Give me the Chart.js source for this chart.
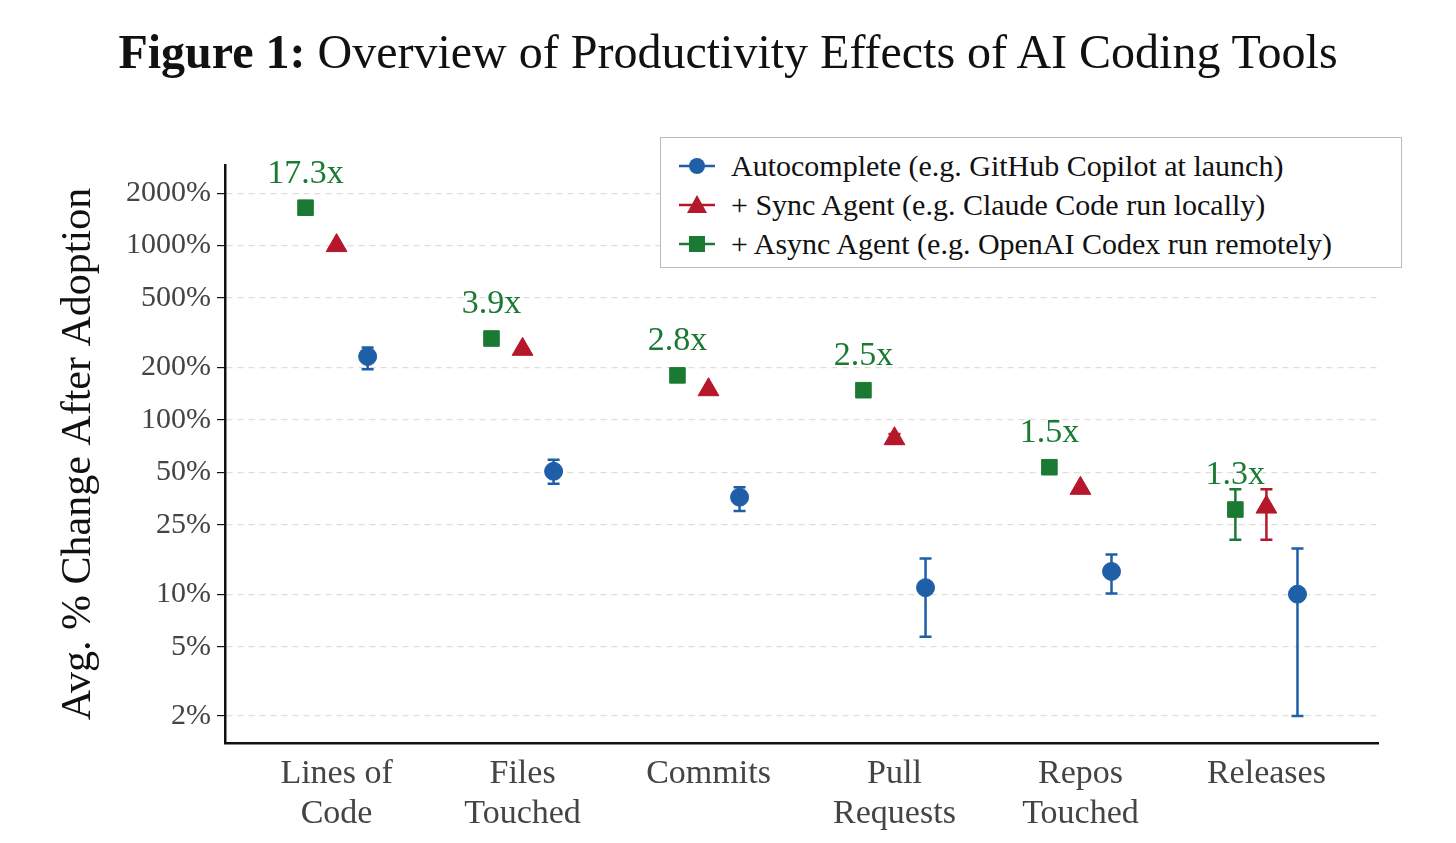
<!DOCTYPE html>
<html><head><meta charset="utf-8">
<script src="https://cdn.jsdelivr.net/npm/chart.js@4/dist/chart.umd.min.js"></script>
<style>
body{margin:0;background:#fff;width:1456px;height:843px;overflow:hidden;font-family:"Liberation Serif",serif;}
#wrap{position:absolute;left:0;top:0;width:1456px;height:843px;}
#title{position:absolute;top:24px;left:0;width:1456px;text-align:center;font-size:48px;color:#111;}
#legend{position:absolute;left:660px;top:137px;width:742px;height:131px;border:1.5px solid #bbb;background:#fff;box-sizing:border-box;padding-top:8px;}
.li{height:39px;display:flex;align-items:center;font-size:30px;color:#111;white-space:nowrap;}
.li svg{margin-left:16px;margin-right:14px;}
</style></head><body>
<div id="wrap"><canvas id="c" width="1456" height="843"></canvas></div>
<div id="title"><b>Figure 1:</b> Overview of Productivity Effects of AI Coding Tools</div>
<div id="legend">
<div class="li"><svg width="40" height="24"><line x1="2" y1="12" x2="38" y2="12" stroke="#1f5fa8" stroke-width="2.5"/><circle cx="20" cy="12" r="8" fill="#1f5fa8"/></svg>Autocomplete (e.g. GitHub Copilot at launch)</div>
<div class="li"><svg width="40" height="24"><line x1="2" y1="12" x2="38" y2="12" stroke="#b5182b" stroke-width="2.5"/><polygon points="20,2 30,20 10,20" fill="#b5182b"/></svg>+ Sync Agent (e.g. Claude Code run locally)</div>
<div class="li"><svg width="40" height="24"><line x1="2" y1="12" x2="38" y2="12" stroke="#1a7a34" stroke-width="2.5"/><rect x="12" y="4" width="16" height="16" fill="#1a7a34"/></svg>+ Async Agent (e.g. OpenAI Codex run remotely)</div>
</div>
<script>
const categories=[["Lines of","Code"],["Files","Touched"],["Commits"],["Pull","Requests"],["Repos","Touched"],["Releases"]];
const autoVals=[231,50.7,36,10.9,13.5,10];
const autoLo=[195,43,30,5.7,10.1,2.0];
const autoHi=[260,59,41,16,16.9,18.3];
const syncVals=[1000,254,149,78,40.5,31.6];
const syncLo=[null,null,null,73,null,20.5];
const syncHi=[null,null,null,83,null,40];
const asyncVals=[1650,293,180,148,53.5,30.6];
const asyncLo=[null,null,null,null,null,20.5];
const asyncHi=[null,null,null,null,null,40];
const ratioLabels=["17.3x","3.9x","2.8x","2.5x","1.5x","1.3x"];
const yTicks=[2,5,10,25,50,100,200,500,1000,2000];
const off=0.167;
const BLUE="#1f5fa8",RED="#b5182b",GREEN="#1a7a34";
const FONT='"Liberation Serif", serif';
function pts(vals,o,lo,hi){return vals.map((v,i)=>({x:i+o,y:v,lo:lo[i],hi:hi[i]}));}
const errPlugin={id:'err',afterDatasetsDraw(ch){
 const ctx=ch.ctx,xs=ch.scales.x,ys=ch.scales.y;
 ch.data.datasets.forEach(ds=>{ds.data.forEach(p=>{if(p.lo==null)return;
  const x=xs.getPixelForValue(p.x),y1=ys.getPixelForValue(p.lo),y2=ys.getPixelForValue(p.hi);
  ctx.save();ctx.strokeStyle=ds.backgroundColor;ctx.lineWidth=2.5;ctx.beginPath();
  ctx.moveTo(x,y1);ctx.lineTo(x,y2);ctx.moveTo(x-6,y1);ctx.lineTo(x+6,y1);ctx.moveTo(x-6,y2);ctx.lineTo(x+6,y2);ctx.stroke();ctx.restore();});});
 ctx.save();ctx.fillStyle=GREEN;ctx.font='34px '+FONT;ctx.textAlign='center';ctx.textBaseline='bottom';
 asyncVals.forEach((v,i)=>{ctx.fillText(ratioLabels[i],xs.getPixelForValue(i-off),ys.getPixelForValue(v)-17);});
 ctx.restore();
}};
new Chart(document.getElementById('c'),{
 type:'scatter',
 data:{datasets:[
  {data:pts(asyncVals,-off,asyncLo,asyncHi),backgroundColor:GREEN,borderColor:GREEN,pointStyle:'rect',pointRadius:11},
  {data:pts(syncVals,0,syncLo,syncHi),backgroundColor:RED,borderColor:RED,pointStyle:'triangle',pointRadius:12},
  {data:pts(autoVals,off,autoLo,autoHi),backgroundColor:BLUE,borderColor:BLUE,pointStyle:'circle',pointRadius:9}
 ]},
 plugins:[errPlugin],
 options:{responsive:false,animation:false,
  layout:{padding:{top:165,right:78,left:52,bottom:0}},
  plugins:{legend:{display:false},tooltip:{enabled:false}},
  scales:{
   x:{type:'linear',min:-0.6,max:5.6,
    afterBuildTicks(s){s.ticks=[0,1,2,3,4,5].map(v=>({value:v}));},
    afterFit(s){s.height=100;},
    ticks:{callback:(v)=>categories[v],color:'#444',font:{family:FONT,size:34,lineHeight:1.15},maxRotation:0,padding:4},
    grid:{display:false,drawTicks:true,tickLength:8,tickColor:'#111'},
    border:{color:'#111',width:2.5}},
   y:{type:'logarithmic',min:1.4,max:2900,
    afterBuildTicks(s){s.ticks=yTicks.map(v=>({value:v}));},
    afterFit(s){s.width=173;},
    ticks:{callback:(v)=>v+'%',color:'#444',font:{family:FONT,size:30},padding:6},
    title:{display:true,text:'Avg. % Change After Adoption',color:'#111',font:{family:FONT,size:42},padding:2},
    grid:{color:'#ddd',lineWidth:1.2,tickLength:8,tickColor:'#111'},
    border:{color:'#111',width:2.5,dash:[6,5]}}
  }
 }
});
</script>
</body></html>
